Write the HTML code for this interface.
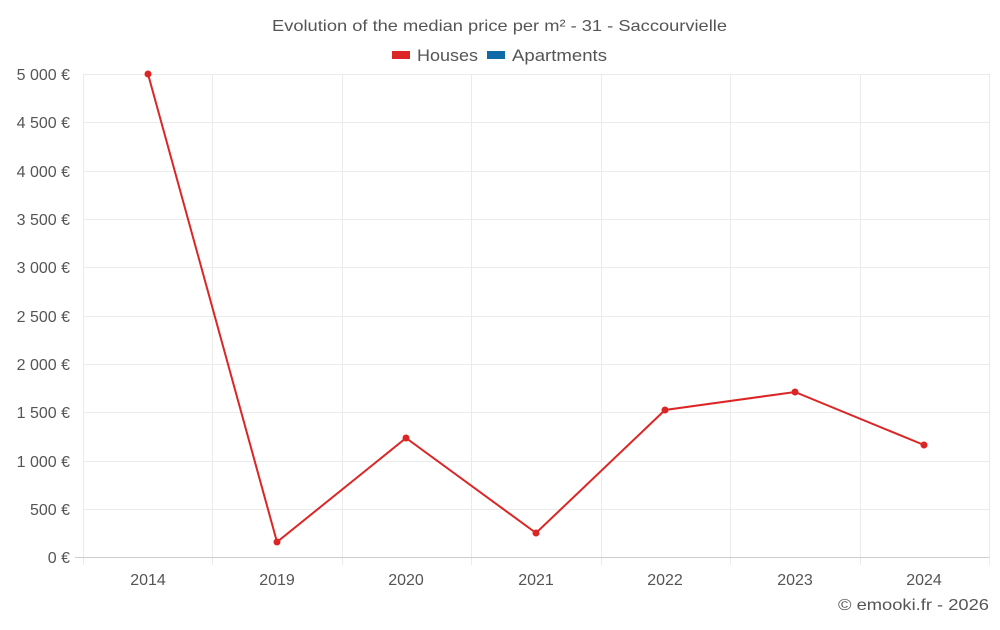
<!DOCTYPE html>
<html><head><meta charset="utf-8"><style>
body{margin:0;background:#fff;}
svg text{font-family:"Liberation Sans",sans-serif;fill:#555;}
</style></head><body>
<svg width="1000" height="625" xmlns="http://www.w3.org/2000/svg">
<text x="272" y="31" font-size="16" textLength="455" lengthAdjust="spacingAndGlyphs">Evolution of the median price per m² - 31 - Saccourvielle</text>
<rect x="392" y="51" width="18" height="8" fill="#dc2626"/>
<text x="417" y="61" font-size="17" textLength="61" lengthAdjust="spacingAndGlyphs">Houses</text>
<rect x="487" y="51" width="18" height="8" fill="#0e6ba8"/>
<text x="512" y="61" font-size="17" textLength="95" lengthAdjust="spacingAndGlyphs">Apartments</text>
<g stroke="#ebebeb" stroke-width="1">
<line x1="83" x2="989" y1="74.5" y2="74.5"/><line x1="83" x2="989" y1="122.5" y2="122.5"/>
<line x1="83" x2="989" y1="171.5" y2="171.5"/><line x1="83" x2="989" y1="219.5" y2="219.5"/>
<line x1="83" x2="989" y1="267.5" y2="267.5"/><line x1="83" x2="989" y1="316.5" y2="316.5"/>
<line x1="83" x2="989" y1="364.5" y2="364.5"/><line x1="83" x2="989" y1="412.5" y2="412.5"/>
<line x1="83" x2="989" y1="461.5" y2="461.5"/><line x1="83" x2="989" y1="509.5" y2="509.5"/>
<line x1="83.5" x2="83.5" y1="74" y2="565"/><line x1="212.5" x2="212.5" y1="74" y2="565"/>
<line x1="342.5" x2="342.5" y1="74" y2="565"/><line x1="471.5" x2="471.5" y1="74" y2="565"/>
<line x1="601.5" x2="601.5" y1="74" y2="565"/><line x1="730.5" x2="730.5" y1="74" y2="565"/>
<line x1="860.5" x2="860.5" y1="74" y2="565"/><line x1="989.5" x2="989.5" y1="74" y2="565"/>
</g>
<line x1="75" x2="989" y1="557.5" y2="557.5" stroke="#ccc"/>
<g font-size="16" text-anchor="end">
<text x="70" y="80">5 000 €</text><text x="70" y="128">4 500 €</text>
<text x="70" y="177">4 000 €</text><text x="70" y="225">3 500 €</text>
<text x="70" y="273">3 000 €</text><text x="70" y="322">2 500 €</text>
<text x="70" y="370">2 000 €</text><text x="70" y="418">1 500 €</text>
<text x="70" y="467">1 000 €</text><text x="70" y="515">500 €</text>
<text x="70" y="563">0 €</text>
</g>
<g font-size="16" text-anchor="middle">
<text x="148" y="585">2014</text><text x="277" y="585">2019</text>
<text x="406" y="585">2020</text><text x="536" y="585">2021</text>
<text x="665" y="585">2022</text><text x="795" y="585">2023</text>
<text x="924" y="585">2024</text>
</g>
<polyline fill="none" stroke="#dc2626" stroke-width="2" points="148,74 277,542 406,438 536,533 665,410 795,392 924,445"/>
<g fill="#dc2626">
<circle cx="148" cy="74" r="3.5"/><circle cx="277" cy="542" r="3.5"/><circle cx="406" cy="438" r="3.5"/>
<circle cx="536" cy="533" r="3.5"/><circle cx="665" cy="410" r="3.5"/><circle cx="795" cy="392" r="3.5"/>
<circle cx="924" cy="445" r="3.5"/>
</g>
<text x="838" y="610" font-size="16" textLength="151" lengthAdjust="spacingAndGlyphs">© emooki.fr - 2026</text>
</svg>
</body></html>
